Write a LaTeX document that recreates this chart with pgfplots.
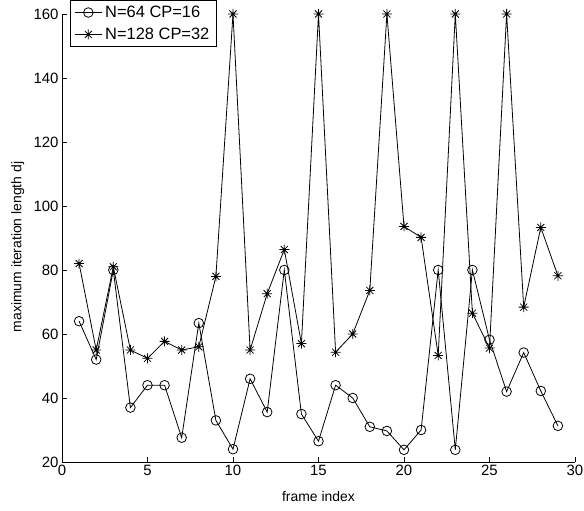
\documentclass[border=0pt]{standalone}
\usepackage{fontspec}
\setmainfont{Liberation Sans}
\usepackage{pgfplots}
\pgfplotsset{compat=1.18}
\pgfdeclareplotmark{mstar}{%
 \pgfpathmoveto{\pgfqpoint{0pt}{\pgfplotmarksize}}\pgfpathlineto{\pgfqpoint{0pt}{-\pgfplotmarksize}}%
 \pgfpathmoveto{\pgfqpoint{\pgfplotmarksize}{0pt}}\pgfpathlineto{\pgfqpoint{-\pgfplotmarksize}{0pt}}%
 \pgfpathmoveto{\pgfqpoint{.7\pgfplotmarksize}{.7\pgfplotmarksize}}\pgfpathlineto{\pgfqpoint{-.7\pgfplotmarksize}{-.7\pgfplotmarksize}}%
 \pgfpathmoveto{\pgfqpoint{.7\pgfplotmarksize}{-.7\pgfplotmarksize}}\pgfpathlineto{\pgfqpoint{-.7\pgfplotmarksize}{.7\pgfplotmarksize}}%
 \pgfusepathqstroke}
\begin{document}
\begin{tikzpicture}
\begin{axis}[
  at={(0,0)}, anchor=south west,
  scale only axis, width=513bp, height=448bp,
  xmin=0, xmax=30, ymin=20, ymax=160,
  axis x line*=bottom, axis y line*=left,
  xtick={0,5,...,30}, ytick={20,40,...,160},
  tick align=inside, major tick length=5bp,
  tick style={black, line width=0.9pt},
  axis line style={black, line width=0.9pt},
  /pgf/number format/assume math mode=true,
  ticklabel style={font=\fontsize{15}{17}\selectfont},
  xlabel={frame index}, ylabel={maximum iteration length dj},
  label style={font=\fontsize{14}{16}\selectfont},
  xlabel style={at={(axis description cs:0.5,-0.077)}, anchor=center},
  ylabel style={at={(axis description cs:-0.086,0.48)}, anchor=center},
  legend style={at={(axis description cs:0.0156,1.031)}, anchor=north west,
    draw=black, line width=0.9pt, font=\fontsize{16.5}{18}\selectfont,
    inner xsep=4pt, inner ysep=3.5pt, row sep=5pt, cells={anchor=west},
    nodes={inner xsep=3pt}},
  legend image code/.code={\draw[#1, mark repeat=2, mark phase=2] plot coordinates {(0bp,0bp) (13.5bp,0bp) (27bp,0bp)};},
  clip=false,
]
\addplot[black, line width=0.8pt, mark=o, mark size=4.8bp] coordinates {
(1,64) (2,52) (3,80) (4,37) (5,44) (6,44) (7,27.6) (8,63.4) (9,33) (10,24)
(11,46) (12,35.6) (13,80) (14,35) (15,26.5) (16,44) (17,40) (18,31) (19,29.7) (20,23.8)
(21,30) (22,80) (23,23.8) (24,80) (25,58.2) (26,42) (27,54.2) (28,42.2) (29,31.3)
};
\addlegendentry{N=64 CP=16}
\addplot[black, line width=0.8pt, mark=mstar, mark size=5bp] coordinates {
(1,82) (2,55) (3,81) (4,55) (5,52.4) (6,57.7) (7,55) (8,56) (9,78) (10,160)
(11,55) (12,72.6) (13,86.4) (14,57) (15,160) (16,54.3) (17,60) (18,73.6) (19,160) (20,93.6)
(21,90.2) (22,53.3) (23,160) (24,66.5) (25,55.6) (26,160) (27,68.4) (28,93.3) (29,78.2)
};
\addlegendentry{N=128 CP=32}
\end{axis}
\pgfresetboundingbox
\useasboundingbox (-62bp,-49bp) rectangle (522bp,462bp);
\end{tikzpicture}
\end{document}
